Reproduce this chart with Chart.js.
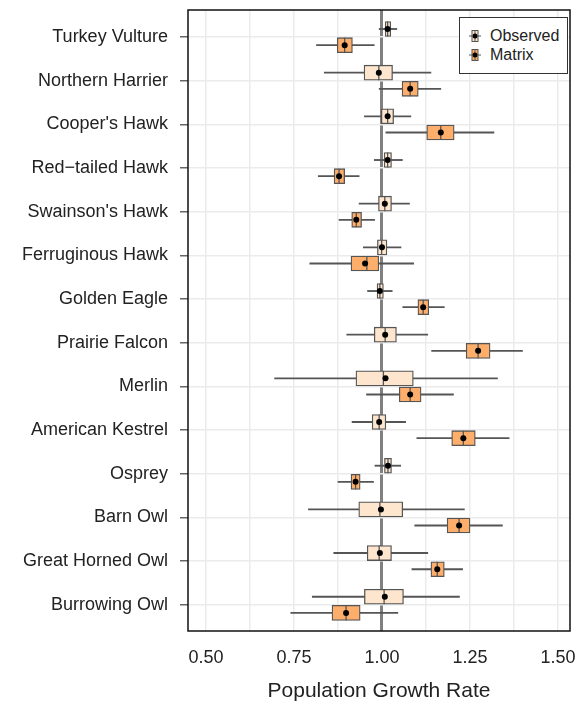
<!DOCTYPE html>
<html>
<head>
<meta charset="utf-8">
<script src="https://cdn.jsdelivr.net/npm/chart.js@4/dist/chart.umd.min.js"></script>
<style>
  body { margin: 0; background: #fff; }
  #wrap { position: relative; width: 580px; height: 704px; }
  #legend {
    position: absolute; left: 459px; top: 17px; width: 107px; height: 55px;
    border: 1.5px solid #333; background: #fff;
    font-family: "Liberation Sans", Arial, sans-serif; font-size: 16px; color: #222;
  }
  #legend .item { position: absolute; left: 8px; height: 18px; line-height: 18px; }
  #legend svg { position: absolute; left: 0; top: 2px; }
  #legend span { position: absolute; left: 22px; top: 0; white-space: nowrap; }
</style>
</head>
<body>
<div id="wrap">
  <canvas id="chart" width="580" height="704"></canvas>
  <div id="legend"></div>
</div>
<script>
var species = ["Turkey Vulture", "Northern Harrier", "Cooper's Hawk", "Red\u2212tailed Hawk",
  "Swainson's Hawk", "Ferruginous Hawk", "Golden Eagle", "Prairie Falcon", "Merlin",
  "American Kestrel", "Osprey", "Barn Owl", "Great Horned Owl", "Burrowing Owl"];

// Observed: whisker low, box low, median, box high, whisker high, mean
var obsLow    = [0.992, 0.836, 0.950, 0.978, 0.935, 0.947, 0.959, 0.900, 0.695, 0.915, 0.980, 0.791, 0.863, 0.802];
var obsQ1     = [1.009, 0.949, 0.998, 1.006, 0.990, 0.987, 0.986, 0.978, 0.926, 0.972, 1.007, 0.934, 0.958, 0.950];
var obsMedian = [1.016, 0.991, 1.016, 1.016, 1.008, 0.999, 0.994, 1.009, 1.004, 0.992, 1.017, 0.994, 0.992, 1.006];
var obsQ3     = [1.025, 1.030, 1.033, 1.027, 1.027, 1.014, 1.004, 1.041, 1.089, 1.011, 1.027, 1.059, 1.027, 1.061];
var obsHigh   = [1.042, 1.139, 1.082, 1.058, 1.078, 1.054, 1.029, 1.130, 1.328, 1.067, 1.053, 1.234, 1.130, 1.220];
var obsMean   = [1.016, 0.991, 1.016, 1.016, 1.008, 1.000, 0.994, 1.009, 1.010, 0.992, 1.017, 0.997, 0.994, 1.008];

// Matrix model
var matLow    = [0.814, 0.992, 1.011, 0.819, 0.878, 0.795, 1.059, 1.141, 0.956, 1.099, 0.875, 1.093, 1.085, 0.741];
var matQ1     = [0.873, 1.057, 1.127, 0.864, 0.914, 0.912, 1.102, 1.239, 1.049, 1.198, 0.912, 1.185, 1.139, 0.858];
var matMedian = [0.894, 1.080, 1.167, 0.878, 0.927, 0.957, 1.117, 1.273, 1.080, 1.231, 0.925, 1.219, 1.157, 0.898];
var matQ3     = [0.916, 1.103, 1.205, 0.894, 0.942, 0.991, 1.133, 1.307, 1.111, 1.265, 0.938, 1.250, 1.177, 0.938];
var matHigh   = [0.978, 1.167, 1.318, 0.935, 0.979, 1.090, 1.177, 1.399, 1.203, 1.361, 0.976, 1.342, 1.229, 1.045];
var matMean   = [0.894, 1.080, 1.167, 0.878, 0.927, 0.952, 1.117, 1.273, 1.080, 1.231, 0.925, 1.219, 1.157, 0.898];

var xGrid = [0.5, 0.625, 0.75, 0.875, 1.0, 1.125, 1.25, 1.375, 1.5];
var xTickLabels = { 0.5: "0.50", 0.75: "0.75", 1.0: "1.00", 1.25: "1.25", 1.5: "1.50" };

var obsColor = "#fee6ce";
var matColor = "#fdae6b";
var edge = "#555555";
var shift = 0.185; // half gap between the two boxes of a species

function rows(off, a, b) {
  return species.map((s, i) => ({ y: i + off, x: b ? [a[i], b[i]] : a[i] }));
}

function seriesSets(label, off, color, low, q1, med, q3, high, mean) {
  return [
    { type: "scatter", label: label + " mean", data: rows(off, mean), order: 0,
      pointRadius: 3, pointHoverRadius: 3, backgroundColor: "#000", borderWidth: 0 },
    { type: "scatter", label: label + " median", data: rows(off, med), order: 1,
      pointStyle: "line", rotation: 90, pointRadius: 7.5, pointHoverRadius: 7.5,
      borderColor: edge, borderWidth: 1.3 },
    { type: "bar", label: label, data: rows(off, q1, q3), order: 2, grouped: false,
      backgroundColor: color, borderColor: edge, borderWidth: 1.3, borderSkipped: false,
      barPercentage: 1, categoryPercentage: 1, maxBarThickness: 15 },
    { type: "bar", label: label + " range", data: rows(off, low, high), order: 3, grouped: false,
      backgroundColor: edge, borderWidth: 0,
      barPercentage: 1, categoryPercentage: 1, maxBarThickness: 1.2 }
  ];
}

var frame = {
  id: "frame",
  afterDatasetsDraw(chart) {
    var a = chart.chartArea, c = chart.ctx;
    c.save();
    c.strokeStyle = "#111";
    c.lineWidth = 1.5;
    c.strokeRect(a.left, a.top, a.right - a.left, a.bottom - a.top);
    c.restore();
  }
};

var font = { family: "'Liberation Sans', Arial, sans-serif", size: 18 };

new Chart(document.getElementById("chart").getContext("2d"), {
  type: "bar",
  data: {
    datasets: seriesSets("Observed", -shift, obsColor, obsLow, obsQ1, obsMedian, obsQ3, obsHigh, obsMean)
      .concat(seriesSets("Matrix", shift, matColor, matLow, matQ1, matMedian, matQ3, matHigh, matMean))
  },
  options: {
    indexAxis: "y",
    responsive: false,
    animation: false,
    devicePixelRatio: 1,
    layout: { padding: { left: 0, right: 10, top: 10, bottom: 0 } },
    plugins: { legend: { display: false }, tooltip: { enabled: false } },
    scales: {
      x: {
        type: "linear", min: 0.449, max: 1.534, offset: false,
        afterBuildTicks: s => { s.ticks = xGrid.map(v => ({ value: v })); },
        afterFit: s => { s.height = 73; s.paddingLeft = 0; s.paddingRight = 0; },
        border: { display: false },
        grid: {
          drawTicks: false, offset: false,
          color: c => (c.tick && c.tick.value === 1 ? "#808080" : "#ebebeb"),
          lineWidth: c => (c.tick && c.tick.value === 1 ? 3 : 1.5)
        },
        ticks: {
          padding: 16, color: "#222", font: font, maxRotation: 0, autoSkip: false,
          callback: v => xTickLabels[v] || ""
        },
        title: {
          display: true, text: "Population Growth Rate", color: "#222",
          font: { family: font.family, size: 21 }, padding: { top: 0, bottom: 0 }
        }
      },
      y: {
        type: "linear", min: -0.62, max: 13.6, reverse: true, offset: false,
        afterBuildTicks: s => { s.ticks = species.map((n, i) => ({ value: i })); },
        afterFit: s => { s.width = 188; s.paddingTop = 0; s.paddingBottom = 0; },
        border: { display: false },
        grid: { offset: false, color: "#ebebeb", lineWidth: 1.5, tickLength: 8, tickColor: "#666" },
        ticks: { padding: 12, color: "#222", font: font, autoSkip: false,
          callback: v => species[v] }
      }
    }
  },
  plugins: [frame]
});

// legend (HTML so the text stays real text)
var legendItems = [["Observed", obsColor], ["Matrix", matColor]];
var lg = document.getElementById("legend");
legendItems.forEach(function (it, k) {
  var d = document.createElement("div");
  d.className = "item";
  d.style.top = (9 + k * 19) + "px";
  d.innerHTML = '<svg width="14" height="14" viewBox="0 0 14 14">' +
    '<line x1="1" y1="7" x2="13" y2="7" stroke="' + edge + '" stroke-width="1"/>' +
    '<rect x="4" y="1.5" width="6" height="11" fill="' + it[1] + '" stroke="' + edge + '" stroke-width="1"/>' +
    '<line x1="7" y1="1.5" x2="7" y2="12.5" stroke="' + edge + '" stroke-width="1"/>' +
    '<circle cx="7" cy="7" r="2.5" fill="#000"/></svg><span>' + it[0] + '</span>';
  lg.appendChild(d);
});
</script>
</body>
</html>
